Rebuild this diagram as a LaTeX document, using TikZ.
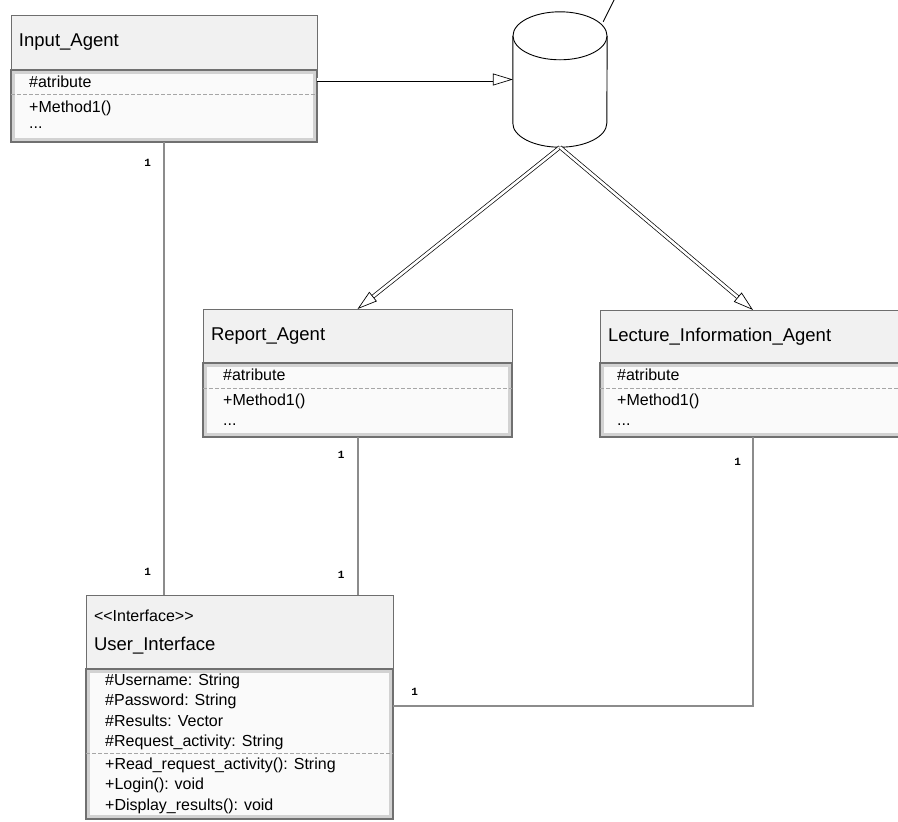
\documentclass[tikz,border=0pt]{standalone}
\usepackage{fontspec}
\setmainfont{Liberation Sans}
\setmonofont{Liberation Mono}
\usepackage{tikz}
\usetikzlibrary{arrows.meta, positioning}
\definecolor{HeadFill}{HTML}{F1F1F1}
\definecolor{BodyFill}{HTML}{FAFAFA}
\definecolor{Edge}{HTML}{6E6E6E}
\definecolor{BodyEdge}{HTML}{707070}
\definecolor{LinkGray}{HTML}{8C8C8C}
\tikzset{
  head/.style={
    rectangle, fill=HeadFill, draw=Edge, line width=0.8pt,
    text width=#1, align=left, inner xsep=8pt, inner ysep=0pt,
    outer sep=0pt, font=\fontsize{18.5}{22}\selectfont
  },
  body/.style={
    rectangle, fill=BodyFill, draw=BodyEdge, line width=2.6pt,
    outer sep=0pt, inner sep=0pt,
    path picture={
      \draw[gray!35, line width=4pt]
        ([shift={(2pt,-2pt)}]path picture bounding box.north west) rectangle
        ([shift={(-2pt,2pt)}]path picture bounding box.south east);
    }
  },
  % base west = baseline of the last line
  memb/.style={anchor=base west, align=left, inner sep=0pt,
    font=\fontsize{16}{20.5}\selectfont},
  sep/.style={draw=gray!70, line width=1pt, dash pattern=on 4pt off 2pt},
  can/.style={draw, line width=0.9pt, fill=white},
  dbl/.style={double=white, double distance=2.6pt, line width=0.7pt,
    -{Triangle[open, length=20pt, width=12pt]}},
  assoc/.style={draw=LinkGray, line width=2pt},
  mult/.style={inner sep=0pt, font=\fontsize{11}{11}\ttfamily\bfseries},
}
\begin{document}
\begin{tikzpicture}[x=1pt, y=-1pt]
\useasboundingbox (0,0) rectangle (898,822);

% top row: agent class and the data store
\node[head=290pt, minimum height=55pt] at (164,42.5) (inputH) {Input\_Agent};
\node[body, minimum width=306pt, minimum height=72pt, below=0pt of inputH] (inputB) {};
\draw[sep] ([yshift=-24pt]inputB.north west) -- ([yshift=-24pt]inputB.north east);
\node[memb] at ([xshift=18pt,yshift=-17pt]inputB.north west) (inputAtt) {\#atribute};
\node[memb] at ([xshift=18pt,yshift=-58.5pt]inputB.north west) (inputOps) {+Method1()\\[-4pt]...};

% data store: a named box, the can drawn over it
\node[minimum width=94pt, minimum height=135pt, inner sep=0pt] at (560,79.5) (db) {};
\draw[can] ([yshift=-24pt]db.north west) -- ([yshift=24pt]db.south west)
  arc[start angle=180, end angle=360, x radius=47pt, y radius=24pt]
  -- ([yshift=-24pt]db.north east);
\draw[can] ([yshift=-24pt]db.north) ellipse[x radius=47pt, y radius=24pt];
\coordinate (dbOut) at (615,-2);
\draw[line width=0.9pt] ([xshift=-4pt,yshift=-10pt]db.north east) -- (dbOut);

% middle row
\node[head=293pt, minimum height=54pt] at (357.5,336) (reportH) {Report\_Agent};
\node[body, minimum width=309pt, minimum height=74pt, below=0pt of reportH] (reportB) {};
\draw[sep] ([yshift=-25pt]reportB.north west) -- ([yshift=-25pt]reportB.north east);
\node[memb] at ([xshift=20pt,yshift=-17pt]reportB.north west) (reportAtt) {\#atribute};
\node[memb] at ([xshift=20pt,yshift=-62.5pt]reportB.north west) (reportOps) {+Method1()\\...};

\node[head=290pt, minimum height=53pt] at (753,336.5) (lectureH) {Lecture\_Information\_Agent};
\node[body, minimum width=306pt, minimum height=74pt, below=0pt of lectureH] (lectureB) {};
\draw[sep] ([yshift=-25pt]lectureB.north west) -- ([yshift=-25pt]lectureB.north east);
\node[memb] at ([xshift=17pt,yshift=-17pt]lectureB.north west) (lectureAtt) {\#atribute};
\node[memb] at ([xshift=17pt,yshift=-62.5pt]lectureB.north west) (lectureOps) {+Method1()\\...};

% interface at the bottom
\node[head=291pt, minimum height=74pt] at (239.5,632) (uiH)
  {{\fontsize{16}{20}\selectfont <{}<Interface>{}>}\\[7pt]User\_Interface};
\node[body, minimum width=307pt, minimum height=150pt, below=0pt of uiH] (uiB) {};
\draw[sep] ([yshift=-84pt]uiB.north west) -- ([yshift=-84pt]uiB.north east);
\node[memb] at ([xshift=19pt,yshift=-77.5pt]uiB.north west) (uiAtt)
  {\#Username: String\\\#Password: String\\\#Results: Vector\\\#Request\_activity: String};
\node[memb] at ([xshift=19pt,yshift=-141pt]uiB.north west) (uiOps)
  {+Read\_request\_activity(): String\\+Login(): void\\+Display\_results(): void};
\coordinate (uiJoin) at ([yshift=38pt]uiB.east);

% data flow
\draw[dbl] (db.west -| inputB.east) -- (db.west);
\draw[dbl] (db.south) -- (reportH.north);
\draw[dbl] (db.south) -- (lectureH.north);

% associations
\draw[assoc] (inputB.south) -- node[mult, pos=0.045, left=12pt]{1}
  node[mult, pos=0.95, left=12pt]{1} (inputB.south |- uiH.north);
\draw[assoc] (reportB.south) -- node[mult, pos=0.11, left=12pt]{1}
  node[mult, pos=0.87, left=12pt]{1} (reportB.south |- uiH.north);
\draw[assoc] (lectureB.south) |- node[mult, pos=0.046, left=11pt]{1}
  node[mult, pos=0.97, above=10pt]{1} (uiJoin);

\end{tikzpicture}
\end{document}
